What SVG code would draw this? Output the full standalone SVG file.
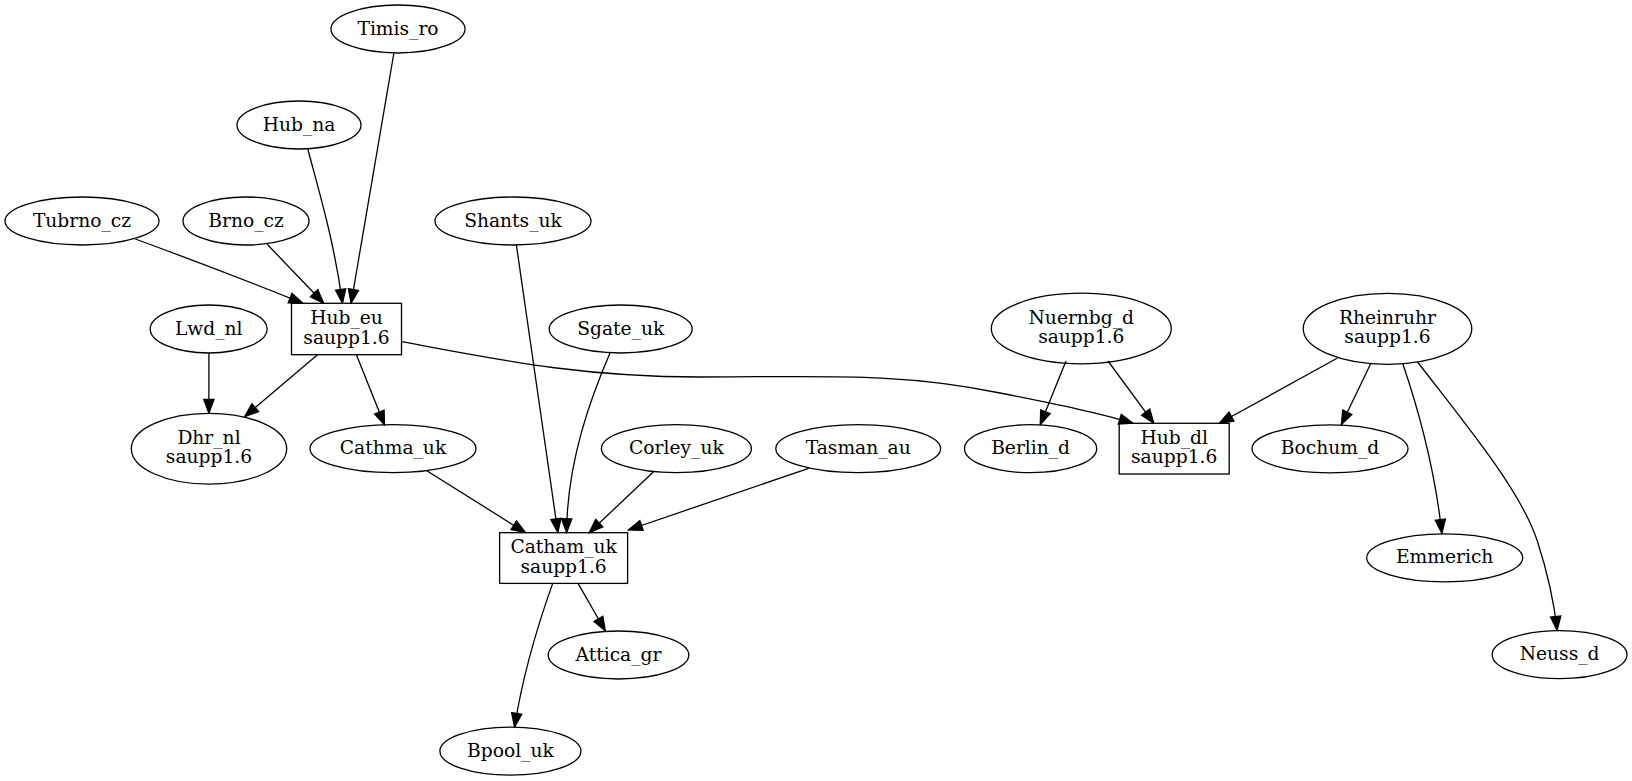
<svg xmlns="http://www.w3.org/2000/svg" width="1632" height="781" viewBox="0 0 1632 781">
<style>
.n ellipse, .n rect { fill: none; stroke: #000; stroke-width: 1.3; }
.n text { font-family: "DejaVu Serif", serif; font-size: 18.67px; text-anchor: middle; fill: #000; }
#edges path { fill: none; stroke: #000; stroke-width: 1.3; marker-end: url(#arr); }
</style>
<defs>
<marker id="arr" viewBox="-1 -1 16 12.4" refX="14" refY="5.2" markerWidth="16" markerHeight="12.4" markerUnits="userSpaceOnUse" orient="auto">
<path d="M0,0 L14,5.2 L0,10.4 z" fill="#000" stroke="#000" stroke-width="1.2"/>
</marker>
</defs>
<rect x="0" y="0" width="1632" height="781" fill="#fff"/>
<g id="edges">
<path d="M393.8,53.5 L351.1,303.3"/>
<path d="M307.8,149 C318,188 334,240 342.5,303.3"/>
<path d="M135.3,239 C190,259 250,282 303,303.3"/>
<path d="M267.2,244.3 L323.7,303.3"/>
<path d="M208.9,353 L208.9,413.3"/>
<path d="M317.5,354.7 L244.6,416.7"/>
<path d="M356.4,354.7 L384.5,425"/>
<path d="M401.5,341.7 C500,360 580,377 700,377 C820,377 900,372 1000,393 C1060,405 1100,413 1133.1,423.3"/>
<path d="M516.4,245 L557.9,532.7"/>
<path d="M610,353 C592,395 567,460 566.6,532.7"/>
<path d="M426.8,470.7 L525.6,532.7"/>
<path d="M653.3,472 L589.1,532.7"/>
<path d="M808.7,468.3 L628.3,530"/>
<path d="M578,583.4 L605.4,631"/>
<path d="M552.7,583.4 C536,630 522,680 514.5,727.2"/>
<path d="M1066,361 L1040.2,424.7"/>
<path d="M1108,361 L1153.9,423.3"/>
<path d="M1337.1,358.3 L1219.2,423.3"/>
<path d="M1370.8,363.5 L1341.3,424.8"/>
<path d="M1402.7,363.5 C1422,420 1436,480 1441.9,533.5"/>
<path d="M1417.6,362 C1470,430 1520,490 1537,540 C1550,580 1555,610 1557.1,630.5"/>
</g>
<g id="Timis_ro" class="n"><ellipse cx="398" cy="29" rx="67" ry="24"/><text x="398" y="34.6">Timis_ro</text></g>
<g id="Hub_na" class="n"><ellipse cx="299" cy="125" rx="62" ry="24"/><text x="299" y="130.6">Hub_na</text></g>
<g id="Tubrno_cz" class="n"><ellipse cx="82" cy="221" rx="77" ry="24"/><text x="82" y="226.6">Tubrno_cz</text></g>
<g id="Brno_cz" class="n"><ellipse cx="246" cy="221" rx="63" ry="24"/><text x="246" y="226.6">Brno_cz</text></g>
<g id="Shants_uk" class="n"><ellipse cx="513" cy="221" rx="78" ry="24"/><text x="513" y="226.6">Shants_uk</text></g>
<g id="Hub_eu" class="n"><rect x="291.5" y="303.3" width="110" height="51.4"/><text x="346.5" y="324">Hub_eu</text><text x="346.5" y="343.6">saupp1.6</text></g>
<g id="Lwd_nl" class="n"><ellipse cx="208.7" cy="329" rx="58.5" ry="24"/><text x="208.7" y="334.6">Lwd_nl</text></g>
<g id="Sgate_uk" class="n"><ellipse cx="620.7" cy="329" rx="71.5" ry="24"/><text x="620.7" y="334.6">Sgate_uk</text></g>
<g id="Nuernbg_d" class="n"><ellipse cx="1081.3" cy="328.5" rx="90" ry="35.3"/><text x="1081.3" y="323.5">Nuernbg_d</text><text x="1081.3" y="343.1">saupp1.6</text></g>
<g id="Rheinruhr" class="n"><ellipse cx="1387.5" cy="328.8" rx="84.3" ry="35.5"/><text x="1387.5" y="323.8">Rheinruhr</text><text x="1387.5" y="343.4">saupp1.6</text></g>
<g id="Dhr_nl" class="n"><ellipse cx="209" cy="448.7" rx="77.7" ry="35.4"/><text x="209" y="443.9">Dhr_nl</text><text x="209" y="463.4">saupp1.6</text></g>
<g id="Cathma_uk" class="n"><ellipse cx="393" cy="448.7" rx="83" ry="24"/><text x="393" y="454.3">Cathma_uk</text></g>
<g id="Corley_uk" class="n"><ellipse cx="676.4" cy="448.7" rx="75" ry="24"/><text x="676.4" y="454.3">Corley_uk</text></g>
<g id="Tasman_au" class="n"><ellipse cx="858.2" cy="448.7" rx="82.4" ry="24"/><text x="858.2" y="454.3">Tasman_au</text></g>
<g id="Berlin_d" class="n"><ellipse cx="1030.6" cy="448.7" rx="66.1" ry="24"/><text x="1030.6" y="454.3">Berlin_d</text></g>
<g id="Hub_dl" class="n"><rect x="1119.2" y="423.3" width="110" height="50.7"/><text x="1174.2" y="443.7">Hub_dl</text><text x="1174.2" y="463.3">saupp1.6</text></g>
<g id="Bochum_d" class="n"><ellipse cx="1330" cy="448.8" rx="78" ry="24"/><text x="1330" y="454.4">Bochum_d</text></g>
<g id="Catham_uk" class="n"><rect x="499.6" y="532.7" width="128" height="50.7"/><text x="563.6" y="553">Catham_uk</text><text x="563.6" y="572.6">saupp1.6</text></g>
<g id="Emmerich" class="n"><ellipse cx="1444.7" cy="557.8" rx="78" ry="24"/><text x="1444.7" y="563.4">Emmerich</text></g>
<g id="Attica_gr" class="n"><ellipse cx="618.5" cy="655" rx="70.3" ry="24"/><text x="618.5" y="660.6">Attica_gr</text></g>
<g id="Neuss_d" class="n"><ellipse cx="1559.6" cy="654.7" rx="67.4" ry="24"/><text x="1559.6" y="660.3">Neuss_d</text></g>
<g id="Bpool_uk" class="n"><ellipse cx="510.4" cy="751.2" rx="70.5" ry="24"/><text x="510.4" y="756.8">Bpool_uk</text></g>
</svg>
